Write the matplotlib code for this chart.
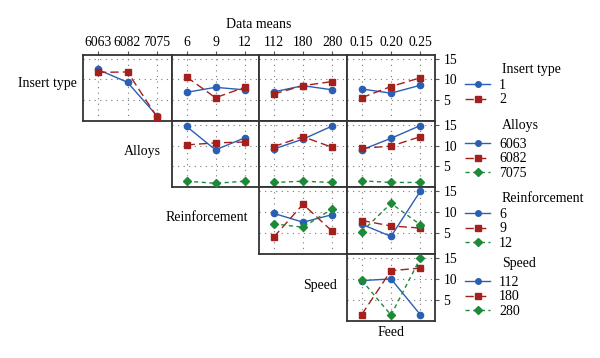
import matplotlib.pyplot as plt
from matplotlib.lines import Line2D

plt.rcParams['font.family'] = ['Liberation Serif', 'DejaVu Serif']

# factor names and their levels
factor_names = ['Insert type', 'Alloys', 'Reinforcement', 'Speed', 'Feed']
insert_levels = ['1', '2']
alloy_levels = ['6063', '6082', '7075']
reinf_levels = ['6', '9', '12']
speed_levels = ['112', '180', '280']
feed_levels = ['0.15', '0.20', '0.25']

# interaction means (rows: trace factor level, cols: x factor level)
insert_x_alloys = [[12.4, 9.3, 1.2], [11.7, 11.8, 0.9]]
insert_x_reinf = [[6.9, 8.1, 7.5], [10.6, 5.6, 8.1]]
insert_x_speed = [[7.0, 8.5, 7.5], [6.5, 8.5, 9.5]]
insert_x_feed = [[7.7, 6.7, 8.6], [5.6, 8.3, 10.4]]

alloys_x_reinf = [[14.7, 9.0, 11.9], [10.2, 10.7, 10.9], [1.4, 0.9, 1.4]]
alloys_x_speed = [[9.2, 11.6, 14.8], [9.8, 12.2, 9.6], [1.1, 1.4, 1.1]]
alloys_x_feed = [[9.0, 11.8, 14.9], [9.4, 9.9, 12.2], [1.5, 1.1, 1.1]]

reinf_x_speed = [[9.7, 7.6, 9.4], [4.0, 11.9, 5.4], [7.2, 6.4, 10.8]]
reinf_x_feed = [[7.1, 4.2, 15.0], [8.0, 6.7, 6.2], [5.3, 12.1, 7.0]]

speed_x_feed = [[9.6, 10.0, 1.4], [1.4, 12.0, 12.6], [9.7, 1.3, 15.0]]

x_levels = [alloy_levels, reinf_levels, speed_levels, feed_levels]
trace_levels = [insert_levels, alloy_levels, reinf_levels, speed_levels]
panels = {
    (0, 0): insert_x_alloys, (0, 1): insert_x_reinf, (0, 2): insert_x_speed, (0, 3): insert_x_feed,
    (1, 1): alloys_x_reinf, (1, 2): alloys_x_speed, (1, 3): alloys_x_feed,
    (2, 2): reinf_x_speed, (2, 3): reinf_x_feed,
    (3, 3): speed_x_feed,
}

colors = ['#2b5fb3', '#a3201d', '#1d8a3a']
markers = ['o', 's', 'D']
styles = ['-', (0, (6, 3)), (0, (3, 2.5))]
msizes = [4.5, 5, 4.5]

W, H = 600, 358
fig = plt.figure(figsize=(6, 3.58), dpi=100)

col_edges = [83, 172, 259, 347, 435]
row_edges = [54.5, 121, 187, 254, 320.5]
fs = 10
tfs = 9.8

for (r, c), means in panels.items():
    x0, x1 = col_edges[c], col_edges[c + 1]
    y0, y1 = row_edges[r], row_edges[r + 1]
    ax = fig.add_axes([x0 / W, 1 - y1 / H, (x1 - x0) / W, (y1 - y0) / H])
    xs = range(len(x_levels[c]))
    for k, vals in enumerate(means):
        ax.plot(xs, vals, color=colors[k], linestyle=styles[k], marker=markers[k],
                markersize=msizes[k], linewidth=1.0, zorder=3)
    ax.set_xlim(-0.5, 2.5)
    ax.set_ylim(0, 16)
    ax.set_xticks(list(xs))
    ax.set_yticks([5, 10, 15])
    ax.grid(True, color='#777777', linestyle=(0, (1, 4)), linewidth=0.8)
    for s in ax.spines.values():
        s.set_linewidth(1.3)
        s.set_color('#333333')
    ax.tick_params(length=0, labelbottom=False, labelleft=False)
    if r == 0:
        ax.xaxis.tick_top()
        ax.set_xticklabels(x_levels[c], fontsize=tfs)
        ax.tick_params(axis='x', top=True, labeltop=True, length=3, pad=1, color='#555555')
    if c == 3:
        ax.yaxis.tick_right()
        ax.tick_params(axis='y', right=True, labelright=True, labelleft=False,
                       length=3, pad=3, labelsize=tfs, color='#555555')

# row labels
fig.text(77 / W, 1 - 83 / H, factor_names[0], ha='right', va='center', fontsize=fs)
fig.text(161 / W, 1 - 152 / H, factor_names[1], ha='right', va='center', fontsize=fs)
fig.text(248 / W, 1 - 217 / H, factor_names[2], ha='right', va='center', fontsize=fs)
fig.text(337 / W, 1 - 286 / H, factor_names[3], ha='right', va='center', fontsize=fs)
fig.text(391 / W, 1 - 332 / H, factor_names[4], ha='center', va='center', fontsize=fs)
fig.text(259 / W, 1 - 25 / H, 'Data means', ha='center', va='center', fontsize=fs)

# legends
leg_titles = factor_names[:4]
title_y = [69, 125, 198, 264]
first_y = [87, 146, 216, 284]
for g in range(4):
    labs = trace_levels[g]
    handles = [Line2D([], [], color=colors[k], linestyle=styles[k], marker=markers[k],
                      markersize=msizes[k] - 0.5, linewidth=1.0) for k in range(len(labs))]
    fig.text(502 / W, 1 - title_y[g] / H, leg_titles[g], ha='left', va='center', fontsize=fs)
    fig.legend(handles, labs, loc='upper left', bbox_to_anchor=(465 / W, 1 - (first_y[g] - 8) / H),
               frameon=False, fontsize=fs, handlelength=1.8, handletextpad=0.65,
               labelspacing=0.1, borderpad=0, borderaxespad=0)

fig.savefig('out.png', dpi=100)
